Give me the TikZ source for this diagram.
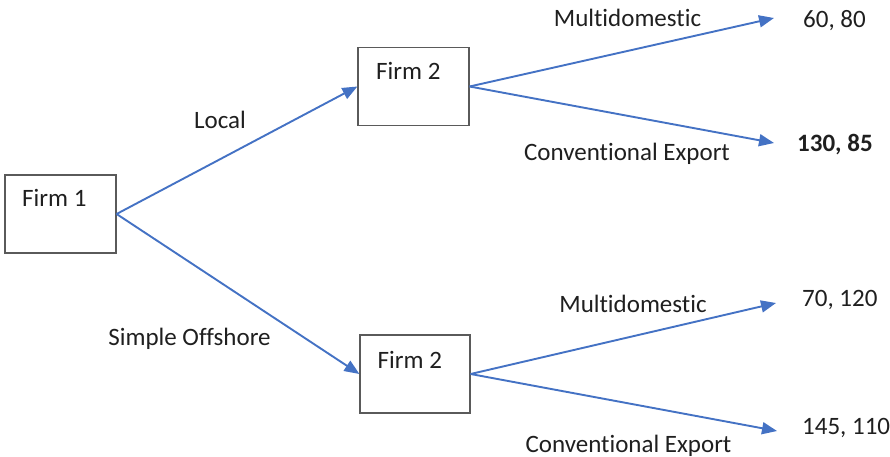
\documentclass[tikz,border=0pt]{standalone}
\usepackage{fontspec}
\setmainfont{Carlito}[Ligatures={NoCommon,NoRare}]
\usetikzlibrary{arrows.meta}
\definecolor{arrowblue}{HTML}{4472C4}
\definecolor{boxgray}{HTML}{5A5A5A}
\begin{document}
\begin{tikzpicture}[x=1pt,y=-1pt,
  firmbox/.style={draw=boxgray,line width=1.2pt,minimum width=111pt,minimum height=78pt,inner sep=0pt},
  lbl/.style={font=\fontsize{25}{30}\selectfont,text=black!88,inner sep=0pt,anchor=base},
  branch/.style={draw=arrowblue,line width=1.9pt,-{Triangle[length=15pt,width=12pt]}}]
\useasboundingbox (0,0) rectangle (890,457);
\node[firmbox] (f1) at (60.5,214) {};
\node[firmbox] (f2a) at (413.5,86.5) {};
\node[firmbox,minimum width=110pt] (f2b) at (415,374) {};
\node[lbl,anchor=base west] (t1) at (22,206.5) {Firm 1};
\node[lbl,anchor=base west] (t2a) at (376,80) {Firm 2};
\node[lbl,anchor=base west] (t2b) at (377.5,368.5) {Firm 2};
\coordinate (e1) at (774,18);
\coordinate (e2) at (774,143);
\coordinate (e3) at (776,303);
\coordinate (e4) at (777,431);
\draw[branch] (f1.east) -- (f2a.west);
\draw[branch] (f1.east) -- (f2b.west);
\draw[branch] (f2a.east) -- (e1);
\draw[branch] (f2a.east) -- (e2);
\draw[branch] (f2b.east) -- (e3);
\draw[branch] (f2b.east) -- (e4);
\node[lbl] (local) at (220,129) {Local};
\node[lbl] (off) at (189.5,345.5) {Simple Offshore};
\node[lbl] (m1) at (627.5,27) {Multidomestic};
\node[lbl] (c1) at (627,160.5) {Conventional Export};
\node[lbl] (m2) at (633,312) {Multidomestic};
\node[lbl] (c2) at (628.5,452) {Conventional Export};
\node[lbl,anchor=base west] (p1) at (803,28) {60, 80};
\node[lbl,anchor=base west,font=\fontsize{25}{30}\selectfont\bfseries] (p2) at (797,152) {130, 85};
\node[lbl,anchor=base west] (p3) at (802,306) {70, 120};
\node[lbl,anchor=base west] (p4) at (802,434) {145, 110};
\end{tikzpicture}
\end{document}
